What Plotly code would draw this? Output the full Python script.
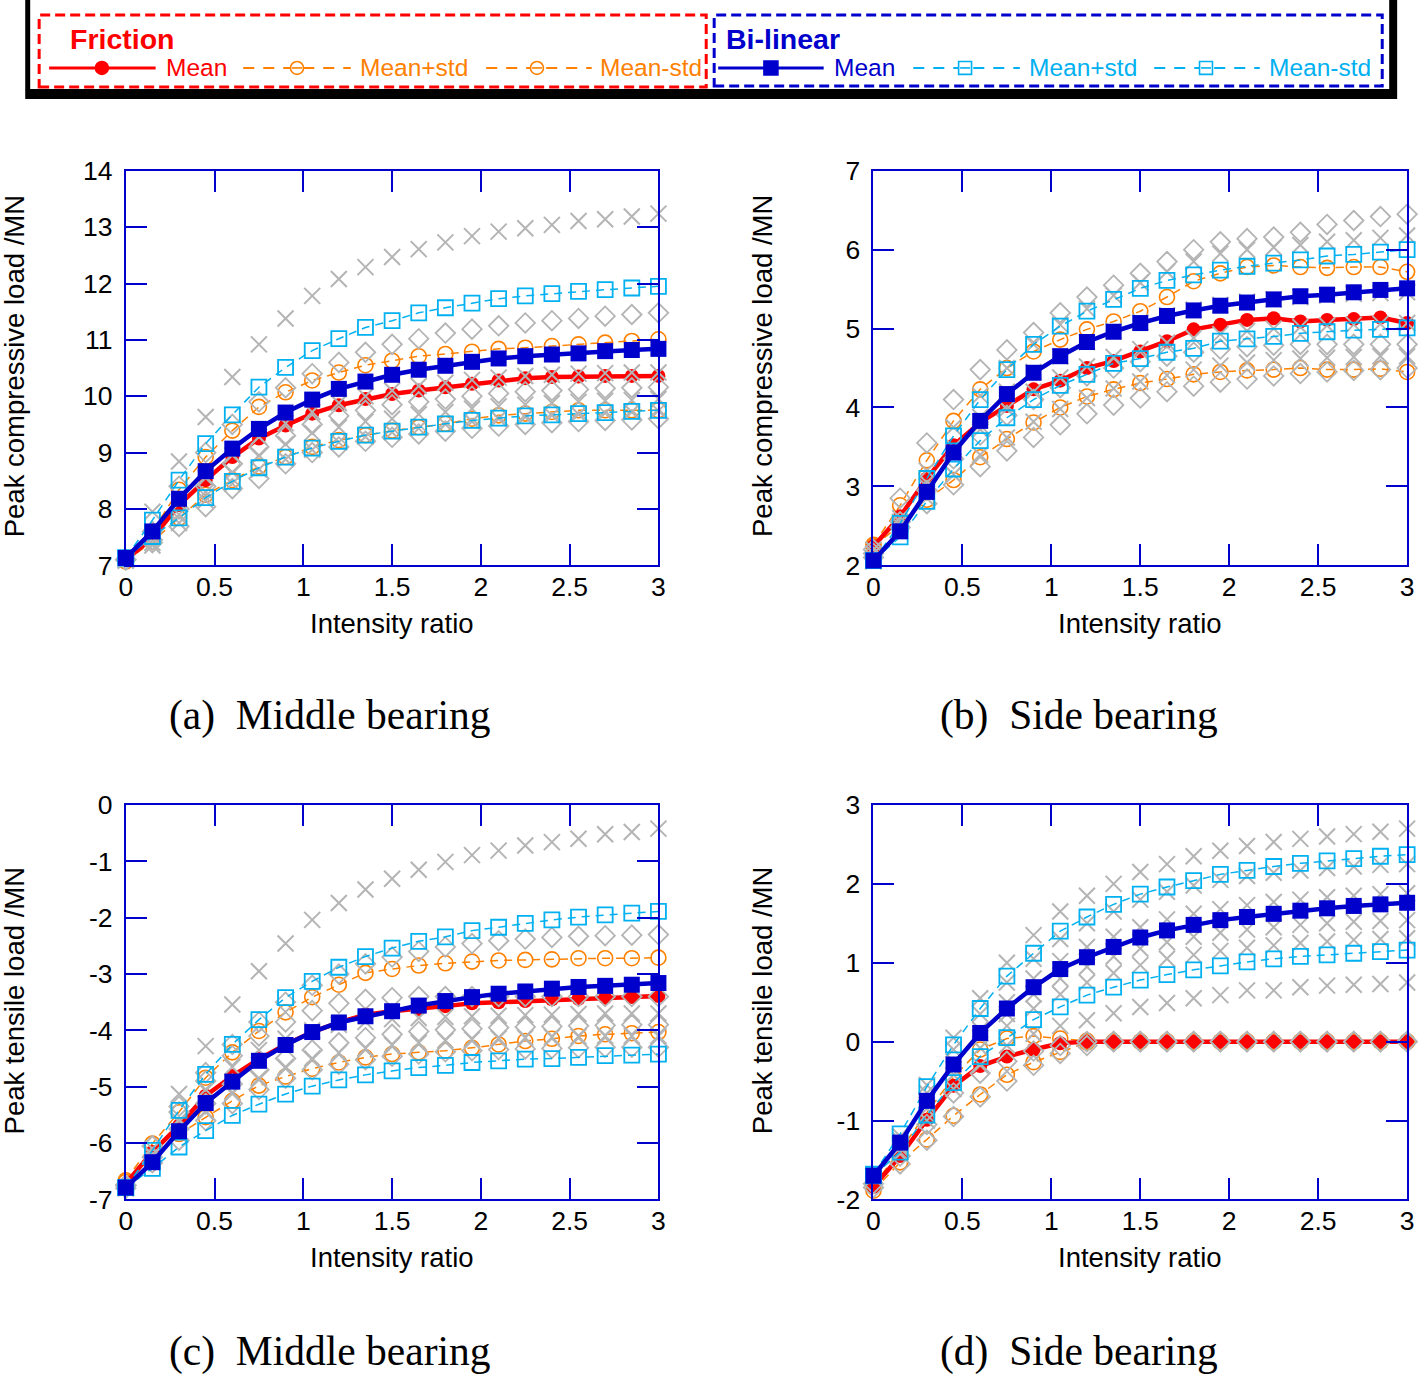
import plotly.graph_objects as go

W, H = 1418, 1376
# The photographed page comes out slightly shrunk/shifted; positions below are
# given in target picture pixels and converted back to page pixels.
SX, OX = 0.9945, 5.7
SY, OY = 0.9795, 14.0

# ---------------- data ----------------
intensity = [0, 0.15, 0.3, 0.45, 0.6, 0.75, 0.9, 1.05, 1.2, 1.35, 1.5,
             1.65, 1.8, 1.95, 2.1, 2.25, 2.4, 2.55, 2.7, 2.85, 3.0]
x_ticks = [0, 0.5, 1, 1.5, 2, 2.5, 3]
x_ticktext = ["0", "0.5", "1", "1.5", "2", "2.5", "3"]

# (a) middle bearing, compressive
a_fric_mean = [7.10, 7.48, 8.07, 8.51, 8.92, 9.25, 9.48, 9.69, 9.84, 9.95, 10.04, 10.10, 10.16, 10.22, 10.28, 10.32, 10.34, 10.35, 10.36, 10.36, 10.36]
a_fric_plus = [7.07, 7.60, 8.34, 8.92, 9.39, 9.81, 10.07, 10.28, 10.42, 10.55, 10.63, 10.71, 10.75, 10.79, 10.84, 10.86, 10.89, 10.92, 10.95, 10.98, 11.01]
a_fric_minus = [7.07, 7.42, 7.84, 8.25, 8.51, 8.75, 8.92, 9.10, 9.22, 9.31, 9.39, 9.45, 9.51, 9.60, 9.66, 9.69, 9.72, 9.75, 9.75, 9.75, 9.75]
a_bil_mean = [7.13, 7.60, 8.18, 8.67, 9.07, 9.42, 9.71, 9.94, 10.13, 10.26, 10.38, 10.47, 10.54, 10.61, 10.67, 10.71, 10.74, 10.76, 10.80, 10.82, 10.84]
a_bil_plus = [7.13, 7.80, 8.51, 9.16, 9.67, 10.16, 10.51, 10.81, 11.02, 11.22, 11.34, 11.48, 11.57, 11.65, 11.73, 11.78, 11.82, 11.86, 11.89, 11.92, 11.95]
a_bil_minus = [7.13, 7.51, 7.84, 8.20, 8.49, 8.73, 8.92, 9.08, 9.20, 9.31, 9.38, 9.45, 9.51, 9.57, 9.61, 9.65, 9.67, 9.69, 9.71, 9.73, 9.75]
a_grey_x1 = [7.10, 7.95, 8.84, 9.63, 10.34, 10.92, 11.38, 11.78, 12.08, 12.29, 12.47, 12.61, 12.73, 12.84, 12.92, 12.98, 13.04, 13.11, 13.14, 13.19, 13.24]
a_grey_d1 = [7.10, 7.60, 8.40, 9.00, 9.50, 9.90, 10.15, 10.40, 10.60, 10.78, 10.92, 11.02, 11.12, 11.19, 11.25, 11.30, 11.34, 11.38, 11.42, 11.45, 11.48]
a_grey_x2 = [7.10, 7.50, 8.10, 8.55, 8.95, 9.28, 9.52, 9.72, 9.88, 10.00, 10.10, 10.18, 10.24, 10.29, 10.33, 10.36, 10.38, 10.40, 10.41, 10.42, 10.42]
a_grey_d2 = [7.10, 7.45, 8.00, 8.40, 8.80, 9.10, 9.30, 9.50, 9.65, 9.75, 9.85, 9.90, 9.95, 10.00, 10.05, 10.08, 10.10, 10.12, 10.14, 10.15, 10.16]
a_grey_x3 = [7.10, 7.40, 7.90, 8.30, 8.65, 8.95, 9.15, 9.35, 9.45, 9.55, 9.60, 9.68, 9.72, 9.78, 9.82, 9.85, 9.88, 9.90, 9.92, 9.93, 9.95]
a_grey_d3 = [7.10, 7.40, 7.69, 8.04, 8.36, 8.54, 8.80, 9.00, 9.10, 9.20, 9.27, 9.33, 9.38, 9.43, 9.47, 9.50, 9.53, 9.55, 9.57, 9.58, 9.60]
a_grey_x4 = [7.08, 7.35, 7.75, 8.15, 8.45, 8.70, 8.88, 9.05, 9.18, 9.28, 9.36, 9.43, 9.50, 9.55, 9.60, 9.63, 9.66, 9.68, 9.70, 9.72, 9.74]

# (b) side bearing, compressive
b_fric_mean = [2.24, 2.62, 3.10, 3.52, 3.81, 4.02, 4.23, 4.34, 4.50, 4.59, 4.71, 4.84, 4.99, 5.05, 5.11, 5.13, 5.09, 5.11, 5.12, 5.14, 5.07]
b_fric_plus = [2.26, 2.76, 3.33, 3.83, 4.23, 4.50, 4.71, 4.86, 4.99, 5.09, 5.22, 5.40, 5.60, 5.70, 5.78, 5.80, 5.78, 5.77, 5.78, 5.78, 5.72]
b_fric_minus = [2.24, 2.51, 2.83, 3.08, 3.37, 3.60, 3.81, 4.00, 4.14, 4.23, 4.31, 4.36, 4.42, 4.45, 4.47, 4.48, 4.50, 4.48, 4.48, 4.49, 4.45]
b_bil_mean = [2.06, 2.43, 2.93, 3.43, 3.83, 4.17, 4.44, 4.65, 4.83, 4.96, 5.07, 5.16, 5.23, 5.29, 5.33, 5.37, 5.41, 5.43, 5.46, 5.49, 5.51]
b_bil_plus = [2.06, 2.53, 3.10, 3.64, 4.10, 4.48, 4.80, 5.03, 5.22, 5.37, 5.51, 5.61, 5.68, 5.74, 5.79, 5.83, 5.87, 5.92, 5.94, 5.97, 6.00]
b_bil_minus = [2.06, 2.36, 2.81, 3.22, 3.58, 3.87, 4.10, 4.28, 4.42, 4.56, 4.62, 4.70, 4.75, 4.84, 4.87, 4.90, 4.94, 4.96, 4.98, 4.99, 5.01]
b_grey_d1 = [2.10, 2.85, 3.55, 4.10, 4.48, 4.73, 4.95, 5.20, 5.40, 5.55, 5.70, 5.85, 6.00, 6.10, 6.14, 6.16, 6.22, 6.32, 6.37, 6.42, 6.45]
b_grey_x1 = [2.05, 2.60, 3.20, 3.75, 4.15, 4.50, 4.80, 5.05, 5.25, 5.42, 5.58, 5.72, 5.85, 5.95, 6.00, 6.03, 6.06, 6.10, 6.12, 6.15, 6.18]
b_grey_x2 = [2.08, 2.55, 3.05, 3.50, 3.88, 4.20, 4.45, 4.65, 4.83, 4.97, 5.08, 5.17, 5.24, 5.30, 5.34, 5.37, 5.40, 5.42, 5.44, 5.45, 5.46]
b_grey_x3 = [2.15, 2.55, 3.00, 3.40, 3.72, 3.98, 4.20, 4.38, 4.52, 4.64, 4.74, 4.82, 4.88, 4.93, 4.97, 5.00, 5.02, 5.04, 5.05, 5.06, 5.07]
b_grey_d2 = [2.15, 2.55, 2.95, 3.35, 3.65, 3.90, 4.10, 4.25, 4.40, 4.50, 4.58, 4.65, 4.70, 4.74, 4.77, 4.79, 4.80, 4.80, 4.80, 4.80, 4.80]
b_grey_x4 = [2.20, 2.50, 2.85, 3.15, 3.40, 3.62, 3.82, 3.98, 4.12, 4.24, 4.33, 4.41, 4.48, 4.53, 4.57, 4.60, 4.62, 4.63, 4.64, 4.65, 4.65]
b_grey_d3 = [2.20, 2.48, 2.78, 3.02, 3.25, 3.45, 3.62, 3.78, 3.92, 4.03, 4.12, 4.20, 4.27, 4.32, 4.36, 4.40, 4.43, 4.45, 4.47, 4.48, 4.50]

# (c) middle bearing, tensile
c_fric_mean = [-6.72, -6.16, -5.69, -5.16, -4.81, -4.51, -4.25, -4.03, -3.86, -3.72, -3.66, -3.62, -3.57, -3.52, -3.50, -3.48, -3.45, -3.44, -3.42, -3.41, -3.39]
c_fric_plus = [-6.66, -6.01, -5.45, -4.84, -4.39, -4.01, -3.68, -3.41, -3.19, -2.98, -2.91, -2.85, -2.81, -2.78, -2.76, -2.75, -2.74, -2.72, -2.72, -2.72, -2.71]
c_fric_minus = [-6.69, -6.22, -5.84, -5.54, -5.25, -4.98, -4.82, -4.68, -4.57, -4.48, -4.42, -4.39, -4.36, -4.31, -4.25, -4.19, -4.15, -4.10, -4.07, -4.05, -4.03]
c_bil_mean = [-6.79, -6.34, -5.79, -5.29, -4.91, -4.54, -4.26, -4.03, -3.86, -3.75, -3.66, -3.56, -3.48, -3.41, -3.35, -3.31, -3.26, -3.23, -3.21, -3.19, -3.16]
c_bil_plus = [-6.79, -6.13, -5.42, -4.78, -4.25, -3.81, -3.42, -3.13, -2.88, -2.69, -2.54, -2.42, -2.34, -2.23, -2.17, -2.10, -2.04, -1.99, -1.95, -1.92, -1.89]
c_bil_minus = [-6.79, -6.45, -6.07, -5.78, -5.51, -5.31, -5.13, -4.99, -4.88, -4.79, -4.72, -4.66, -4.62, -4.57, -4.54, -4.51, -4.50, -4.48, -4.45, -4.44, -4.42]
c_grey_x1 = [-6.80, -6.10, -5.13, -4.28, -3.54, -2.95, -2.46, -2.04, -1.74, -1.50, -1.31, -1.15, -1.01, -0.89, -0.81, -0.72, -0.66, -0.60, -0.52, -0.48, -0.42]
c_grey_d1 = [-6.80, -6.05, -5.35, -4.75, -4.25, -3.85, -3.50, -3.20, -3.00, -2.82, -2.70, -2.60, -2.52, -2.46, -2.41, -2.38, -2.35, -2.33, -2.32, -2.31, -2.30]
c_grey_x2 = [-6.80, -6.20, -5.60, -5.05, -4.65, -4.35, -4.15, -4.00, -3.90, -3.85, -3.80, -3.78, -3.76, -3.75, -3.74, -3.73, -3.72, -3.71, -3.70, -3.70, -3.70]
c_grey_d2 = [-6.75, -6.25, -5.75, -5.30, -4.95, -4.70, -4.50, -4.35, -4.22, -4.13, -4.07, -4.02, -3.99, -3.97, -3.95, -3.94, -3.93, -3.92, -3.91, -3.90, -3.90]
c_grey_x3 = [-6.80, -6.30, -5.85, -5.45, -5.10, -4.85, -4.65, -4.50, -4.40, -4.32, -4.26, -4.22, -4.18, -4.16, -4.14, -4.13, -4.12, -4.11, -4.10, -4.10, -4.10]
c_grey_d3 = [-6.75, -6.35, -5.95, -5.60, -5.30, -5.05, -4.85, -4.70, -4.60, -4.52, -4.46, -4.42, -4.38, -4.36, -4.34, -4.33, -4.32, -4.31, -4.30, -4.30, -4.30]
c_grey_d4 = [-6.75, -6.05, -5.45, -4.90, -4.45, -4.10, -3.85, -3.65, -3.52, -3.45, -3.42, -3.40, -3.40, -3.40, -3.40, -3.40, -3.40, -3.40, -3.40, -3.40, -3.40]

# (d) side bearing, tensile
d_fric_mean = [-1.84, -1.45, -0.99, -0.56, -0.31, -0.19, -0.10, -0.02, 0, 0, 0, 0, 0, 0, 0, 0, 0, 0, 0, 0, 0]
d_fric_plus = [-1.82, -1.38, -0.90, -0.45, -0.10, 0.04, 0.07, 0.04, 0.01, 0, 0, 0, 0, 0, 0, 0, 0, 0, 0, 0, 0]
d_fric_minus = [-1.89, -1.53, -1.24, -0.94, -0.67, -0.42, -0.26, -0.13, -0.01, 0, 0, 0, 0, 0, 0, 0, 0, 0, 0, 0, 0]
d_bil_mean = [-1.70, -1.28, -0.75, -0.29, 0.11, 0.42, 0.69, 0.92, 1.07, 1.20, 1.32, 1.41, 1.48, 1.54, 1.58, 1.62, 1.66, 1.69, 1.72, 1.74, 1.76]
d_bil_plus = [-1.68, -1.17, -0.57, -0.04, 0.42, 0.83, 1.12, 1.40, 1.58, 1.74, 1.87, 1.96, 2.04, 2.12, 2.17, 2.22, 2.26, 2.29, 2.32, 2.35, 2.37]
d_bil_minus = [-1.70, -1.40, -0.93, -0.52, -0.19, 0.05, 0.28, 0.44, 0.59, 0.69, 0.78, 0.85, 0.91, 0.96, 1.01, 1.05, 1.08, 1.10, 1.12, 1.14, 1.16]
d_grey_x1 = [-1.70, -1.20, -0.55, 0.05, 0.55, 1.00, 1.35, 1.65, 1.85, 2.00, 2.15, 2.25, 2.35, 2.42, 2.48, 2.53, 2.57, 2.60, 2.63, 2.66, 2.70]
d_grey_x2 = [-1.70, -1.25, -0.65, -0.10, 0.35, 0.75, 1.05, 1.30, 1.50, 1.65, 1.80, 1.90, 1.98, 2.05, 2.10, 2.14, 2.17, 2.20, 2.22, 2.24, 2.25]
d_grey_x3 = [-1.70, -1.30, -0.75, -0.25, 0.15, 0.50, 0.80, 1.02, 1.20, 1.33, 1.45, 1.55, 1.62, 1.68, 1.73, 1.77, 1.80, 1.83, 1.85, 1.87, 1.88]
d_grey_x4 = [-1.70, -1.32, -0.80, -0.35, 0.05, 0.35, 0.60, 0.80, 0.95, 1.08, 1.18, 1.26, 1.33, 1.38, 1.42, 1.45, 1.48, 1.50, 1.52, 1.53, 1.54]
d_grey_x5 = [-1.70, -1.35, -0.85, -0.42, -0.08, 0.20, 0.42, 0.60, 0.75, 0.87, 0.97, 1.05, 1.10, 1.15, 1.19, 1.22, 1.25, 1.27, 1.29, 1.30, 1.31]
d_grey_x6 = [-1.70, -1.40, -1.00, -0.60, -0.30, -0.05, 0.10, 0.20, 0.27, 0.36, 0.44, 0.49, 0.55, 0.59, 0.65, 0.65, 0.69, 0.71, 0.72, 0.73, 0.75]
d_grey_d1 = [-1.85, -1.55, -1.25, -0.95, -0.70, -0.50, -0.30, -0.15, -0.05, 0, 0, 0, 0, 0, 0, 0, 0, 0, 0, 0, 0]
d_grey_d2 = [-1.80, -1.45, -1.05, -0.65, -0.40, -0.25, -0.12, -0.05, 0, 0, 0, 0, 0, 0, 0, 0, 0, 0, 0, 0, 0]

# ---------------- styles ----------------
RED = "#ff0000"
ORANGE = "#ff8000"
BLUE = "#0000cc"
CYAN = "#00b0f0"
GREY = "#b4b4b4"
FRAME = "#0000cc"
SANS = "Arial, Liberation Sans, Helvetica, sans-serif"
SERIF = "Times New Roman, Liberation Serif, serif"


def px(sx):
    """target picture x -> paper fraction"""
    return (sx - OX) / SX / W


def py(sy):
    """target picture y -> paper fraction"""
    return 1 - (sy - OY) / SY / H


def dom(v0, v1):
    return [max(0.0, min(1.0, v0)), max(0.0, min(1.0, v1))]


panels = [
    dict(ax="", lo=7, hi=14, xd=(125, 660), yd=(170, 565), capy=715,
         fric=(a_fric_mean, a_fric_plus, a_fric_minus),
         bil=(a_bil_mean, a_bil_plus, a_bil_minus),
         grey=[("x", a_grey_x1), ("d", a_grey_d1), ("x", a_grey_x2), ("d", a_grey_d2),
               ("x", a_grey_x3), ("d", a_grey_d3), ("x", a_grey_x4)],
         ytitle="Peak compressive load /MN", cap="(a)\u00a0\u00a0Middle bearing"),
    dict(ax="2", lo=2, hi=7, xd=(876, 1412), yd=(170, 565), capy=715,
         fric=(b_fric_mean, b_fric_plus, b_fric_minus),
         bil=(b_bil_mean, b_bil_plus, b_bil_minus),
         grey=[("d", b_grey_d1), ("x", b_grey_x1), ("x", b_grey_x2), ("x", b_grey_x3),
               ("d", b_grey_d2), ("x", b_grey_x4), ("d", b_grey_d3)],
         ytitle="Peak compressive load /MN", cap="(b)\u00a0\u00a0Side bearing"),
    dict(ax="3", lo=-7, hi=0, xd=(125, 660), yd=(805, 1200), capy=1352,
         fric=(c_fric_mean, c_fric_plus, c_fric_minus),
         bil=(c_bil_mean, c_bil_plus, c_bil_minus),
         grey=[("x", c_grey_x1), ("d", c_grey_d1), ("x", c_grey_x2), ("d", c_grey_d2),
               ("x", c_grey_x3), ("d", c_grey_d3), ("d", c_grey_d4)],
         ytitle="Peak tensile load /MN", cap="(c)\u00a0\u00a0Middle bearing"),
    dict(ax="4", lo=-2, hi=3, xd=(876, 1412), yd=(805, 1200), capy=1352,
         fric=(d_fric_mean, d_fric_plus, d_fric_minus),
         bil=(d_bil_mean, d_bil_plus, d_bil_minus),
         grey=[("x", d_grey_x1), ("x", d_grey_x2), ("x", d_grey_x3), ("x", d_grey_x4),
               ("x", d_grey_x5), ("x", d_grey_x6), ("d", d_grey_d1), ("d", d_grey_d2)],
         ytitle="Peak tensile load /MN", cap="(d)\u00a0\u00a0Side bearing"),
]

fig = go.Figure()
annotations = []
shapes = []

for p in panels:
    xa, ya = "x" + p["ax"], "y" + p["ax"]
    common = dict(x=intensity, xaxis=xa, yaxis=ya, showlegend=False, cliponaxis=False,
                  hoverinfo="skip")
    fm, fp, fmi = p["fric"]
    bm, bp, bmi = p["bil"]
    for ys in (fp, fmi):
        fig.add_trace(go.Scatter(y=ys, mode="lines+markers",
                                 line=dict(color=ORANGE, width=1.5, dash="8px,6px"),
                                 marker=dict(symbol="circle-open", size=15, color=ORANGE,
                                             line=dict(width=1.6, color=ORANGE)), **common))
    fig.add_trace(go.Scatter(y=fm, mode="lines+markers", line=dict(color=RED, width=4.5),
                             marker=dict(symbol="circle", size=14, color=RED), **common))
    for kind, ys in p["grey"]:
        if kind == "x":
            mk = dict(symbol="x-thin-open", size=16, color=GREY, line=dict(width=2, color=GREY))
        else:
            mk = dict(symbol="diamond-open", size=15, color=GREY, line=dict(width=1.8, color=GREY))
        fig.add_trace(go.Scatter(y=ys, mode="markers", marker=mk, **common))
    for ys in (bp, bmi):
        fig.add_trace(go.Scatter(y=ys, mode="lines+markers",
                                 line=dict(color=CYAN, width=1.5, dash="8px,6px"),
                                 marker=dict(symbol="square-open", size=15, color=CYAN,
                                             line=dict(width=1.8, color=CYAN)), **common))
    fig.add_trace(go.Scatter(y=bm, mode="lines+markers", line=dict(color=BLUE, width=4.5),
                             marker=dict(symbol="square", size=16, color=BLUE), **common))

    yticks = list(range(p["lo"], p["hi"] + 1))
    axis_common = dict(showline=True, linecolor=FRAME, linewidth=2, mirror="ticks",
                       ticks="inside", ticklen=21, tickwidth=2, tickcolor=FRAME,
                       showgrid=False, zeroline=False,
                       tickfont=dict(family=SANS, size=26.5, color="black"))
    fig.update_layout(**{
        "xaxis" + p["ax"]: dict(domain=dom(px(p["xd"][0]), px(p["xd"][1])), range=[0, 3],
                                tickvals=x_ticks, ticktext=x_ticktext, anchor=ya,
                                ticklabelstandoff=-3, **axis_common),
        "yaxis" + p["ax"]: dict(domain=dom(py(p["yd"][1]), py(p["yd"][0])),
                                range=[p["lo"], p["hi"]], tickvals=yticks,
                                ticktext=[str(v) for v in yticks], anchor=xa,
                                ticklabelstandoff=6, **axis_common),
    })
    xc = (p["xd"][0] + p["xd"][1]) / 2
    annotations.append(dict(x=px(xc), y=py(p["yd"][1] + 58), xref="paper", yref="paper",
                            text="Intensity ratio", showarrow=False, xanchor="center",
                            yanchor="middle", font=dict(family=SANS, size=27.5, color="black")))
    annotations.append(dict(x=px(p["xd"][0] - 112), y=py((p["yd"][0] + p["yd"][1]) / 2 - 2),
                            xref="paper", yref="paper", text=p["ytitle"], textangle=-90,
                            showarrow=False, xanchor="center", yanchor="middle",
                            font=dict(family=SANS, size=27.5, color="black")))
    annotations.append(dict(x=px(xc - 62), y=py(p["capy"]), xref="paper", yref="paper",
                            text=p["cap"], showarrow=False, xanchor="center", yanchor="middle",
                            font=dict(family=SERIF, size=41.5, color="black")))


# ---------------- legend box (drawn) ----------------
def rect(x0, y0, x1, y1, **kw):
    shapes.append(dict(type="rect", xref="paper", yref="paper",
                       x0=px(x0), x1=px(x1), y0=py(y1), y1=py(y0), **kw))


def seg(x0, x1, y, color, width, dash="solid"):
    shapes.append(dict(type="line", xref="paper", yref="paper", x0=px(x0), x1=px(x1),
                       y0=py(y), y1=py(y), line=dict(color=color, width=width, dash=dash)))


def circ(cx, cy, r, color, fill):
    shapes.append(dict(type="circle", xref="paper", yref="paper", x0=px(cx - r), x1=px(cx + r),
                       y0=py(cy + r), y1=py(cy - r), line=dict(color=color, width=1.6),
                       fillcolor=fill))


def sq(cx, cy, r, color, fill):
    shapes.append(dict(type="rect", xref="paper", yref="paper", x0=px(cx - r), x1=px(cx + r),
                       y0=py(cy + r), y1=py(cy - r), line=dict(color=color, width=1.6),
                       fillcolor=fill))


rect(24, -30, 1402, 98, fillcolor="black", line=dict(width=0))
rect(29, -30, 1394, 88, fillcolor="white", line=dict(width=0))
rect(38, 14, 708, 86, fillcolor="rgba(0,0,0,0)", line=dict(color=RED, width=3, dash="10px,5px"))
rect(716, 14, 1387, 85, fillcolor="rgba(0,0,0,0)", line=dict(color=BLUE, width=3, dash="10px,5px"))

LY = 67
seg(48, 155, LY, RED, 3)
circ(101, LY, 6.5, RED, RED)
for x0, x1, cx in ((243, 351, 297), (487, 593, 538)):
    seg(x0, x1, LY, ORANGE, 2, "11px,9px")
    circ(cx, LY, 6.5, ORANGE, "white")
    seg(cx - 5, cx + 5, LY, ORANGE, 1.6)
seg(720, 826, LY, BLUE, 3)
sq(773, LY, 7, BLUE, BLUE)
for x0, x1, cx in ((916, 1023, 968), (1158, 1264, 1210)):
    seg(x0, x1, LY, CYAN, 2, "11px,9px")
    sq(cx, LY, 6.5, CYAN, "white")
    seg(cx - 5, cx + 5, LY, CYAN, 1.6)


def label(x, y, text, color, size=24.5, bold=False):
    annotations.append(dict(x=px(x), y=py(y), xref="paper", yref="paper",
                            text=("<b>%s</b>" % text) if bold else text, showarrow=False,
                            xanchor="left", yanchor="middle",
                            font=dict(family=SANS, size=size, color=color)))


label(67, 38, "Friction", RED, 28.5, True)
label(163, 67, "Mean", RED)
label(358, 67, "Mean+std", ORANGE)
label(599, 67, "Mean-std", ORANGE)
label(726, 38, "Bi-linear", BLUE, 28.5, True)
label(834, 67, "Mean", BLUE)
label(1030, 67, "Mean+std", CYAN)
label(1271, 67, "Mean-std", CYAN)

fig.update_layout(width=W, height=H, margin=dict(l=0, r=0, t=0, b=0),
                  paper_bgcolor="white", plot_bgcolor="white",
                  annotations=annotations, shapes=shapes)

fig.write_html("out.html", config={"displayModeBar": False},
               post_script="document.body.style.margin='0px';")
